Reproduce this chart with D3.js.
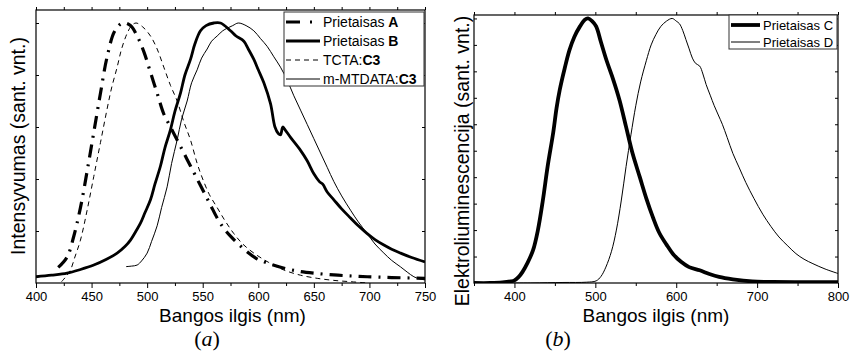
<!DOCTYPE html>
<html>
<head>
<meta charset="utf-8">
<script src="https://cdn.jsdelivr.net/npm/d3@7"></script>
<style>
  body { margin: 0; background: #fff; }
  svg { display: block; font-family: "Liberation Sans", Arial, sans-serif; }
</style>
</head>
<body>
<script>
// panel (a) - [wavelength nm, normalised intensity]
var devA = [[420,0.06],[428,0.1],[434,0.18],[440,0.29],[446,0.43],[452,0.58],[458,0.73],[464,0.87],[471,0.97],[478,1.0],[485,0.99],[491,0.95],[497,0.89],[503,0.81],[509,0.73],[515,0.65],[521,0.6],[527,0.55],[533,0.5],[539,0.45],[545,0.4],[551,0.35],[557,0.3],[563,0.25],[569,0.21],[575,0.18],[582,0.15],[590,0.12],[598,0.095],[608,0.077],[625,0.055],[638,0.044],[652,0.037],[668,0.031],[684,0.027],[698,0.024],[720,0.021],[750,0.018]];
var devB = [[400,0.024],[414,0.03],[428,0.038],[440,0.052],[452,0.069],[463,0.09],[473,0.115],[480,0.14],[485,0.165],[490,0.2],[494,0.23],[498,0.27],[503,0.32],[507,0.38],[512,0.45],[516,0.52],[521,0.59],[525,0.66],[530,0.73],[534,0.8],[539,0.86],[543,0.92],[548,0.97],[553,0.99],[560,1.0],[566,1.0],[575,0.97],[580,0.95],[587,0.93],[591,0.9],[596,0.86],[600,0.82],[605,0.77],[611,0.69],[615,0.6],[618,0.575],[620,0.57],[622,0.6],[624,0.59],[629,0.56],[638,0.51],[644,0.47],[650,0.42],[655,0.39],[658,0.38],[662,0.35],[668,0.32],[675,0.285],[683,0.25],[690,0.22],[698,0.19],[705,0.167],[713,0.146],[720,0.13],[728,0.115],[738,0.098],[750,0.081]];
var tctaC3 = [[423,0.005],[427,0.025],[431,0.05],[435,0.1],[440,0.165],[446,0.28],[452,0.41],[458,0.54],[464,0.67],[468,0.75],[473,0.83],[477,0.9],[482,0.96],[486,0.99],[490,1.0],[496,0.985],[503,0.95],[509,0.9],[515,0.83],[521,0.76],[527,0.7],[533,0.62],[539,0.55],[545,0.46],[550,0.4],[556,0.34],[563,0.29],[570,0.24],[578,0.19],[586,0.15],[596,0.115],[609,0.08],[623,0.05],[638,0.03],[653,0.018],[668,0.01],[683,0.005],[698,0.0]];
var mmtdataC3 = [[481,0.063],[486,0.065],[491,0.069],[495,0.085],[500,0.115],[504,0.16],[509,0.22],[513,0.29],[518,0.37],[522,0.46],[527,0.55],[531,0.63],[536,0.7],[540,0.77],[545,0.82],[549,0.865],[554,0.9],[558,0.93],[563,0.95],[568,0.97],[572,0.98],[577,0.99],[582,1.0],[589,0.99],[596,0.97],[602,0.94],[608,0.91],[614,0.87],[620,0.83],[626,0.78],[632,0.72],[638,0.665],[644,0.61],[650,0.555],[656,0.5],[662,0.445],[668,0.39],[675,0.335],[683,0.28],[690,0.235],[698,0.19],[705,0.15],[713,0.115],[720,0.087],[728,0.062],[734,0.042],[740,0.024],[745,0.016],[750,0.012]];

// panel (b)
var devC = [[350,0.0],[370,0.0],[385,0.002],[395,0.006],[400,0.01],[405,0.022],[410,0.042],[416,0.075],[423,0.124],[429,0.2],[435,0.31],[441,0.44],[448,0.57],[452,0.66],[456,0.73],[462,0.81],[468,0.88],[474,0.93],[481,0.97],[487,0.995],[491,1.0],[496,0.99],[501,0.97],[507,0.91],[514,0.84],[522,0.77],[530,0.69],[538,0.59],[546,0.49],[555,0.4],[563,0.32],[571,0.25],[579,0.19],[588,0.145],[596,0.11],[606,0.08],[616,0.06],[629,0.048],[641,0.034],[653,0.023],[670,0.014],[694,0.006],[720,0.004],[760,0.003],[800,0.003]];
var devD = [[350,0.0],[420,0.0],[460,0.002],[489,0.003],[501,0.008],[507,0.025],[513,0.06],[520,0.12],[526,0.2],[532,0.31],[538,0.44],[544,0.56],[550,0.67],[556,0.76],[563,0.84],[569,0.9],[575,0.94],[581,0.97],[588,0.99],[595,1.0],[600,0.99],[604,0.98],[608,0.955],[612,0.92],[616,0.885],[620,0.85],[624,0.83],[629,0.82],[633,0.79],[637,0.75],[642,0.71],[647,0.67],[652,0.635],[657,0.6],[663,0.55],[670,0.49],[678,0.435],[686,0.38],[696,0.32],[707,0.26],[717,0.214],[727,0.174],[738,0.14],[748,0.111],[758,0.09],[769,0.073],[784,0.053],[800,0.036]];

var xTicksA = [400,450,500,550,600,650,700,750];
var xMinorA = [425,475,525,575,625,675,725];
var yTicksA = [0.2,0.4,0.6,0.8,1.0];
var xTicksB = [400,500,600,700,800];
var xMinorB = [350,450,550,650,750];
var yTicksB = [0.1,0.2,0.3,0.4,0.5,0.6,0.7,0.8,0.9,1.0];

var svg = d3.select("body").append("svg")
  .attr("width", 850)
  .attr("height", 352);

function drawPanel(p) {
  var x = d3.scaleLinear().domain(p.xDomain).range([p.left, p.right]);
  var y = d3.scaleLinear().domain(p.yDomain).range([p.bottom, p.top]);
  var g = svg.append("g");

  g.append("clipPath").attr("id", p.id + "-clip")
    .append("rect")
    .attr("x", p.left).attr("y", p.top)
    .attr("width", p.right - p.left).attr("height", p.bottom - p.top);

  var line = d3.line()
    .x(function(d) { return x(d[0]); })
    .y(function(d) { return y(d[1]); })
    .curve(d3.curveCatmullRom.alpha(0.5));

  var plot = g.append("g").attr("clip-path", "url(#" + p.id + "-clip)");
  p.series.forEach(function(s) {
    plot.append("path")
      .attr("d", line(s.data))
      .attr("fill", "none")
      .attr("stroke", "#000")
      .attr("stroke-width", s.width)
      .attr("stroke-dasharray", s.dash || null)
      .attr("stroke-linejoin", "round");
  });

  // axes
  var bottom = g.append("g").attr("transform", "translate(0," + p.bottom + ")")
    .call(d3.axisBottom(x).tickValues(p.xTicks).tickSize(5).tickPadding(4).tickSizeOuter(0).tickFormat(d3.format("d")));
  g.append("g").attr("transform", "translate(0," + p.bottom + ")")
    .call(d3.axisBottom(x).tickValues(p.xMinor).tickSize(3).tickSizeOuter(0).tickFormat(""));
  g.append("g").attr("transform", "translate(0," + p.top + ")")
    .call(d3.axisTop(x).tickValues(p.xTicks.concat(p.xMinor)).tickSize(3).tickSizeOuter(0).tickFormat(""));
  g.append("g").attr("transform", "translate(" + p.left + ",0)")
    .call(d3.axisLeft(y).tickValues(p.yTicks).tickSize(-3).tickSizeOuter(0).tickFormat(""));
  g.append("g").attr("transform", "translate(" + p.right + ",0)")
    .call(d3.axisRight(y).tickValues(p.yTicks).tickSize(-3).tickSizeOuter(0).tickFormat(""));

  g.selectAll(".domain").remove();
  g.selectAll(".tick line").attr("stroke", "#000");
  bottom.selectAll("text")
    .attr("font-size", 13)
    .attr("font-family", "Liberation Sans, Arial, sans-serif")
    .attr("fill", "#000");

  g.append("rect")
    .attr("x", p.left).attr("y", p.top)
    .attr("width", p.right - p.left).attr("height", p.bottom - p.top)
    .attr("fill", "none").attr("stroke", "#000").attr("stroke-width", 1.2);

  // titles
  g.append("text")
    .attr("x", (p.left + p.right) / 2 + p.xTitleShift).attr("y", 322)
    .attr("text-anchor", "middle").attr("font-size", 19)
    .text("Bangos ilgis (nm)");
  g.append("text")
    .attr("transform", "translate(" + p.yTitleX + "," + p.yTitleY + ") rotate(-90)")
    .attr("text-anchor", "middle").attr("font-size", 19.5)
    .text(p.yTitle);
  var cap = g.append("text")
    .attr("x", p.capX).attr("y", 346)
    .attr("text-anchor", "middle")
    .attr("font-family", "Liberation Serif, Times New Roman, serif")
    .attr("font-size", 22);
  cap.append("tspan").text("(");
  cap.append("tspan").attr("font-style", "italic").text(p.cap);
  cap.append("tspan").text(")");

  // legend
  var lg = p.legend;
  g.append("rect")
    .attr("x", lg.x).attr("y", lg.y)
    .attr("width", lg.w).attr("height", lg.h)
    .attr("fill", "#fff").attr("stroke", "#333").attr("stroke-width", 1);
  p.series.forEach(function(s, i) {
    var yy = lg.y + lg.first + i * lg.step;
    g.append("line")
      .attr("x1", lg.x + 2).attr("x2", lg.x + lg.sample)
      .attr("y1", yy).attr("y2", yy)
      .attr("stroke", "#000").attr("stroke-width", s.width)
      .attr("stroke-dasharray", s.legendDash || s.dash || null);
    var t = g.append("text")
      .attr("x", lg.x + lg.sample + 3).attr("y", yy)
      .attr("dy", "0.36em")
      .attr("font-size", lg.font);
    t.append("tspan").text(s.name);
    if (s.bold) t.append("tspan").attr("font-weight", "bold").text(s.bold);
  });
}

drawPanel({
  id: "pa",
  left: 36, right: 425, top: 10, bottom: 283,
  xDomain: [400, 750], yDomain: [0, 1.05],
  xTicks: xTicksA, xMinor: xMinorA, yTicks: yTicksA,
  xTitleShift: 2,
  yTitle: "Intensyvumas (sant. vnt.)", yTitleX: 25, yTitleY: 146,
  cap: "a", capX: 207,
  series: [
    { name: "Prietaisas ", bold: "A", data: devA, width: 3.2, dash: "13,7,2,7", legendDash: "14,10,2,10" },
    { name: "Prietaisas ", bold: "B", data: devB, width: 2.8 },
    { name: "TCTA:", bold: "C3", data: tctaC3, width: 1, dash: "5,4" },
    { name: "m-MTDATA:", bold: "C3", data: mmtdataC3, width: 1 }
  ],
  legend: { x: 284, y: 12, w: 140, h: 74, first: 10, step: 19, sample: 36, font: 14 }
});

drawPanel({
  id: "pb",
  left: 474, right: 838, top: 15, bottom: 283,
  xDomain: [350, 800], yDomain: [0, 1.013],
  xTicks: xTicksB, xMinor: xMinorB, yTicks: yTicksB,
  xTitleShift: 0,
  yTitle: "Elektroliuminescencija (sant. vnt.)", yTitleX: 469, yTitleY: 161,
  cap: "b", capX: 558,
  series: [
    { name: "Prietaisas C", data: devC, width: 3.8 },
    { name: "Prietaisas D", data: devD, width: 1 }
  ],
  legend: { x: 729, y: 15, w: 108, h: 34, first: 10, step: 17, sample: 31, font: 13 }
});
</script>
</body>
</html>
